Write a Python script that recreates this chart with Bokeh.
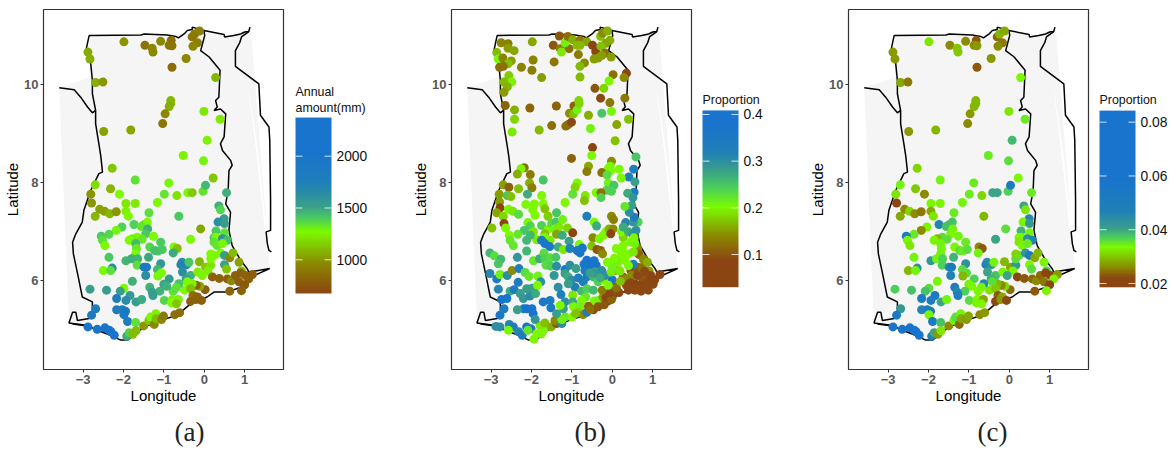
import numpy as np
from bokeh.core.properties import value
from bokeh.embed import file_html
from bokeh.layouts import row
from bokeh.models import ColumnDataSource, FixedTicker, LinearColorMapper, Title
from bokeh.plotting import figure
from bokeh.resources import INLINE
from bokeh.transform import transform

# ---- map outlines (lon, lat) ----
ghana_lon = [-2.85,-1.57,-1.49,-0.92,-0.71,-0.64,-0.50,-0.42,-0.30,-0.30,-0.01,0.01,-0.09,0.12,0.39,0.36,0.28,0.32,0.24,0.40,0.53,0.49,0.40,0.45,0.65,0.69,0.61,0.59,0.53,0.65,0.61,0.69,0.90,1.06,1.10,1.62,
             1.23,0.90,0.57,0.24,0.07,-0.34,-0.67,-1.08,-1.49,-1.74,-1.90,-2.07,-2.32,-2.65,-2.89,-3.35,-3.26,-3.18,-3.14,-2.85,-2.77,-2.77,-3.02,-3.12,-3.24,-3.26,-3.18,-3.02,-2.98,-2.81,-2.69,-2.61,-2.52,-2.56,-2.61,-2.65,-2.69,-2.69,-2.77,-2.77,-2.81,-2.93,-2.85]
ghana_lat = [11.0,11.01,11.03,11.01,10.98,10.95,11.03,11.10,11.12,11.17,11.10,11.0,10.69,10.56,10.29,9.74,9.67,9.54,9.47,9.50,9.40,8.93,8.79,8.65,8.45,8.35,8.24,7.84,7.56,7.39,7.02,6.71,6.41,6.24,6.17,6.24,
             6.10,5.86,5.76,5.76,5.66,5.52,5.29,5.18,5.05,4.88,4.78,4.78,4.88,4.98,5.08,5.13,5.35,5.35,5.18,5.22,5.32,5.56,5.66,6.07,6.54,6.78,6.95,7.19,7.43,7.84,8.04,8.18,8.21,8.52,8.79,8.99,9.20,9.47,9.81,10.08,10.42,10.69,11.0]
togo_lon = [-0.01,0.49,0.50,0.73,0.90,1.0,1.10,1.13]
togo_lat = [11.10,11.02,10.97,11.0,11.03,11.07,11.08,11.17]
benin_lon = [1.10,0.92,0.88,0.77,0.77,1.35,1.39,1.60,1.62,1.64,1.64,1.53,1.56,1.60,1.66]
benin_lat = [11.08,10.97,10.86,10.69,10.37,10.01,9.37,9.13,8.86,7.63,7.02,6.99,6.75,6.61,6.58]
burkina_lon = [-3.59,-3.22,-3.06,-2.89,-2.77,-2.69]
burkina_lat = [9.93,9.89,9.74,9.54,9.42,9.47]
lagoon_lon = [-3.26,-2.89]
lagoon_lat = [5.11,5.07]
land_lon = [-3.59,-2.83,-2.85,-1.57,-0.92,-0.50,-0.30,0.57,1.15,1.62,1.23,0.90,0.57,0.24,0.07,-0.34,-0.67,-1.08,-1.49,-1.74,-1.90,-2.07,-2.32,-2.65,-2.89,-3.35]
land_lat = [9.93,10.14,11.0,11.01,11.01,11.03,11.12,11.0,11.14,6.24,6.10,5.86,5.76,5.76,5.66,5.52,5.29,5.18,5.05,4.88,4.78,4.78,4.88,4.98,5.08,5.13]
sliver_lon = [1.06,1.34,1.54,1.50,1.29]
sliver_lat = [10.12,8.59,7.02,7.02,8.59]

# ---- stations of panels (a) and (c) ----
lon_a = [-1.99,-1.47,-1.29,-1.27,-1.08,-0.82,-0.87,-0.80,-0.30,-0.24,-0.12,-0.17,-0.28,-0.45,-0.80,-2.88,-2.83,-2.69,-2.51,0.28,-0.83,-0.83,-0.87,-0.97,-1.03,-1.82,-2.49,-0.01,0.39,0.07,-0.52,-0.02,0.22,-2.28,-1.71,-0.88,-2.70,-2.32,-2.81,-2.10,-0.99,-0.68,-0.41,-0.30,-0.03,0.03,0.55,
         -2.79,-1.94,-1.71,-1.16,0.36,0.40,-2.59,-2.47,-2.34,-2.18,-1.94,-1.88,-2.70,-1.37,-0.63,0.49,0.34,0.50,-1.48,-1.41,-1.74,-1.56,-1.40,-2.04,-2.18,-2.36,-2.55,-2.52,-2.46,-0.09,0.29,0.50,-1.45,-1.66,-1.78,-1.86,-1.26,-1.54,-1.70,-1.08,-0.34,0.24,0.29,0.24,0.45,0.57,0.32,0.45,
         -1.35,-1.68,-1.70,-1.23,-1.15,-1.04,-0.75,-0.67,-0.77,-2.36,-1.94,-1.80,-1.65,-1.38,-1.08,-1.66,-1.49,-1.43,-2.28,-2.50,-2.32,-1.16,-1.06,-1.15,-1.45,-0.55,-0.58,-0.44,-0.38,-0.12,-0.54,-0.34,-0.45,-0.87,-0.16,0.03,0.16,0.09,-0.05,0.16,0.24,0.16,0.40,0.50,0.63,0.71,0.86,0.50,0.55,0.92,
         0.20,0.37,0.57,0.67,0.77,0.90,1.02,1.19,1.10,0.86,1.0,0.63,0.92,0.02,-0.11,-0.20,-0.30,-0.42,-0.49,-0.34,-0.63,-0.69,-0.77,-1.0,-0.93,-1.10,-1.35,-1.29,-1.27,-1.78,-1.99,-2.08,-1.84,-2.83,-2.42,-2.17,-1.94,-1.69,-1.55,-0.99,-0.79,-0.81,-0.64,-0.69,-0.28,-0.17,-0.34,-0.21,-0.07,
         -2.69,-2.79,-2.17,-2.03,-1.95,-1.99,-1.90,-1.70,-2.88,-2.65,-2.46,-2.35,-2.31,-2.23,-1.92,-1.86,-1.77,-1.69,-1.50,-1.37,-1.33,-1.20,-1.24,-1.19,-1.06,-1.01,-0.73,-0.61]
lat_a = [10.87,10.80,10.74,10.66,10.88,10.90,10.80,10.79,10.97,11.03,11.09,10.85,10.78,10.53,10.35,10.66,10.52,10.04,10.05,10.14,9.67,9.61,9.55,9.40,9.20,9.07,9.04,9.45,9.29,8.86,8.55,8.44,8.09,8.29,8.05,7.99,7.95,7.87,7.76,7.76,7.76,7.73,7.79,7.79,7.82,7.94,7.79,
         7.58,7.57,7.57,7.59,7.52,7.44,7.45,7.41,7.36,7.40,7.41,7.31,7.31,7.38,7.31,7.26,7.19,7.16,7.14,7.19,7.14,7.10,7.05,7.09,7.02,6.94,6.90,6.82,6.71,7.05,7.01,6.97,6.95,6.88,6.85,6.82,6.90,6.84,6.75,6.78,6.84,6.87,6.88,6.78,6.85,6.82,6.71,6.75,
         6.68,6.65,6.54,6.61,6.60,6.63,6.68,6.65,6.56,6.47,6.40,6.44,6.44,6.47,6.34,6.31,6.27,6.27,6.25,6.20,6.20,6.22,6.15,6.09,6.10,6.37,6.32,6.32,6.37,6.38,6.17,6.10,6.03,6.03,6.17,6.27,6.31,6.19,6.10,6.44,6.51,6.54,6.56,6.51,6.46,6.56,6.37,6.32,6.23,6.19,
         6.07,6.04,6.03,5.99,6.10,6.15,6.10,6.12,6.03,5.97,5.91,5.78,5.79,5.81,5.88,5.90,5.93,5.97,5.80,5.83,5.93,5.86,5.78,5.92,5.88,5.78,5.86,5.76,5.69,5.98,5.84,5.78,5.69,5.82,5.80,5.63,5.59,5.56,5.61,5.59,5.61,5.54,5.61,5.52,5.69,5.66,5.57,5.61,5.59,
         5.42,5.29,5.40,5.40,5.37,5.30,5.16,5.14,5.05,5.0,5.03,4.98,4.95,4.88,4.86,4.93,4.90,4.97,5.07,5.18,5.25,5.32,5.10,5.22,5.20,5.27,5.30,5.34]
rain_a = [1000,870,950,950,960,850,880,880,880,900,920,920,950,950,850,1050,1060,1060,1000,1080,1080,1080,1060,950,880,1040,1030,1220,1220,1250,1250,1290,1130,1120,1340,1280,1180,1080,1000,1270,1330,1200,1280,1130,1330,1440,1470,
          1000,1220,1220,1260,1470,1370,1030,1030,1080,1000,1250,1270,1080,1350,1400,1530,1620,1520,1100,1270,1380,1330,1470,1380,1290,1370,1400,1350,1260,1040,1400,1340,1400,1270,1300,1270,1270,1320,1440,1400,1270,1400,1260,1340,1600,1430,1330,1280,
          1370,1320,1270,1420,1430,1400,1270,1100,1480,1400,1450,1470,1450,1490,1560,1350,1850,1850,1650,1270,1350,1450,1270,1280,1620,1620,1700,1700,1400,1080,1620,1470,1530,1550,1240,1140,1200,1240,1250,1260,1280,1270,1270,1530,950,1100,1020,1500,1120,1120,
          800,800,800,950,800,780,800,780,790,780,770,820,800,780,1040,800,1240,1270,1270,1100,1420,1340,1350,1500,1470,1460,1460,1530,1530,1470,1270,1520,1550,1530,1530,1750,1650,1530,1480,1370,1250,1270,1240,1120,850,800,780,790,780,
          1800,1850,1750,1800,1850,1900,1800,1340,2000,2000,2000,2100,2100,2100,1480,1380,1100,1100,1000,1120,1260,1240,950,1100,950,900,850,850]
prop_c = [.032,.026,.030,.030,.026,.023,.026,.027,.024,.029,.028,.025,.026,.027,.023,.027,.027,.028,.025,.0335,.029,.029,.029,.027,.026,.029,.027,.032,.035,.0385,.035,.036,.033,.031,.034,.035,.034,.030,.032,.026,.035,.031,.040,.040,.037,.050,.035,
          .022,.033,.033,.034,.040,.032,.026,.031,.026,.025,.028,.032,.028,.035,.029,.046,.033,.041,.038,.038,.046,.038,.034,.033,.026,.035,.052,.033,.032,.036,.039,.034,.033,.036,.029,.033,.034,.036,.034,.035,.040,.033,.033,.032,.043,.046,.033,.035,
          .033,.034,.034,.036,.035,.036,.026,.023,.034,.034,.042,.034,.037,.039,.043,.037,.045,.052,.043,.029,.034,.036,.036,.029,.046,.043,.046,.043,.034,.029,.040,.038,.039,.037,.033,.028,.042,.033,.040,.036,.036,.031,.042,.052,.028,.029,.033,.033,.036,.037,
          .022,.023,.024,.026,.024,.022,.021,.027,.033,.025,.022,.023,.033,.024,.031,.026,.029,.036,.032,.030,.045,.034,.033,.034,.033,.037,.050,.045,.047,.033,.036,.038,.052,.037,.038,.052,.050,.040,.034,.036,.033,.033,.028,.033,.023,.028,.022,.027,.022,
          .042,.055,.046,.050,.052,.033,.052,.038,.058,.058,.058,.060,.060,.060,.047,.040,.027,.032,.026,.034,.036,.034,.024,.028,.027,.028,.026,.027]

# ---- stations of panel (b) ----
lon_b = [-2.75,-2.58,-2.58,-2.43,-2.86,-2.82,-2.71,-2.50,-2.58,-2.79,-2.70,-1.98,-1.96,-2.25,-1.99,-1.75,-2.56,-2.49,-2.68,-2.60,-2.68,-2.65,-2.42,-2.42,-2.48,-2.04,-1.81,-1.50,-1.385,-1.15,-1.09,-1.01,-1.06,-0.95,-0.96,-0.87,-0.83,-0.82,-0.59,-0.54,-0.26,-0.02,0.40,0.11,0.07,-0.49,-0.51,-1.01,
         -1.31,-1.46,-1.29,-1.07,-1.17,-1.26,-1.44,-1.10,-0.98,-0.80,-0.63,-0.87,-0.80,-0.84,-0.69,-0.80,-0.80,-0.49,-0.41,-0.29,-0.24,-0.12,-0.06,-0.16,-0.28,-0.18,-0.26,-0.45,-0.35,-0.03,0.02,0.35,0.29,-0.08,-0.21,-0.43,-0.29,-0.06,0.31,
         0.585,0.53,0.41,0.56,0.54,0.38,0.51,-0.02,-0.05,-0.10,-0.04,0.17,-0.26,-0.13,0.22,-0.10,0.04,-0.14,-0.02,-0.40,-0.28,-0.28,-0.67,-0.59,-0.63,-0.87,-0.92,-0.98,-1.71,-1.75,-2.03,-2.18,-2.26,-2.35,-2.05,-1.99,-2.10,-2.32,-2.70,-2.56,-2.80,-2.60,-2.51,
         -2.79,-2.78,-2.86,-2.57,-2.46,-2.32,-2.14,-1.93,-1.71,-1.91,-1.97,-1.67,-1.59,-1.38,-1.17,-0.69,-0.63,-0.02,0.03,-0.45,-0.39,-2.70,-2.68,-2.64,-2.98,-2.09,-2.03,-2.18,-2.34,-1.95,-1.75,-1.58,-1.50,-1.40,-1.43,-1.32,-1.23,-1.11,-1.38,-1.24,-1.67,-1.54,-1.68,-1.87,-1.75,-1.67,-1.55,-2.55,-2.53,-2.45,-2.12,-2.03,
         -0.98,-1.07,-0.82,-1.34,-1.21,-1.05,-0.87,-0.80,-0.74,-0.48,-0.51,-0.38,-0.29,-0.24,-0.32,-0.22,-0.16,-0.08,0.02,-0.04,-0.12,-0.02,0.13,-3.03,-2.92,-2.76,-2.82,-2.35,-2.12,-1.95,-1.80,-1.69,-1.67,-1.54,-1.40,-1.64,-1.52,-1.38,-1.17,-1.05,-0.90,-0.63,-0.51,-0.40,-0.63,-0.51,-0.68,-0.43,-0.26,
         -3.03,-2.86,-2.78,-2.60,-2.48,-2.31,-2.16,-2.06,-2.33,-2.82,-2.53,-2.43,-2.28,-2.2,-2.07,-1.98,-1.84,-1.77,-1.85,-2.04,-1.90,-1.44,-1.34,-1.27,-1.17,-1.17,-1.09,-1.01,-0.92,-1.09,-0.98,-0.98,-0.84,-0.72,-0.63,-0.76,-0.63,-0.47,-0.66,-0.76,-0.47,-0.35,-0.21,0,-0.18,-0.45,-0.35,
         -0.96,-0.80,-0.84,-0.72,-0.63,-0.59,-0.47,-0.35,-0.23,-0.16,-0.08,0,-0.10,-0.02,0.05,0.165,0.40,0.56,0.71,0.89,0.56,0.73,0.85,1.01,1.05,1.18,0.87,0.91,0.73,0.56,0.46,0.64,0.74,0.52,0.27,0.35,0.48,0.07,0.19,-0.03,
         0.63,0.66,0.77,0.87,0.40,0.52,0.19,0.23,0.11,0.31,0.27,0.27,0.23,0.40,0.50,0.585,0.33,0.27,0.45,0.56,0.54,0.64,0.52,0.54,0.42,0.48,0.31,
         -2.88,-2.78,-2.55,-2.45,-2.57,-2.32,-2.23,-2.12,-2.01,-2.09,-1.94,-1.87,-1.75,-1.68,-1.79,-1.67,-1.51,-1.38,-1.42,-1.25,-1.17,-1.25,-1.0,-0.91,-2.12,-1.99,-2.19,-1.96,-1.91,-2.35,-2.78,-2.68,-2.74,-2.61,-1.71,-1.54,-1.52,-1.38,-1.21,-1.29,-2.12,
         0.35,0.45,0.62,0.80,0.95,0.48,0.65,0.80,-0.25,-0.05,0.1,-0.55,-0.2,-0.58,-0.45,-0.7,-0.45,-0.55,-0.3,0.0,-0.1,0.2,0.05,0.3,0.4,0.1]
lat_b = [10.85,10.83,10.74,10.69,10.65,10.52,10.54,10.48,10.42,10.35,10.37,10.87,10.50,10.35,10.29,10.14,10.18,10.05,10.05,9.95,9.84,9.57,9.48,9.29,9.03,9.52,9.07,9.16,9.56,9.15,9.18,9.23,9.41,9.56,9.40,9.48,9.67,9.61,9.37,9.10,9.41,9.45,9.29,9.18,8.85,8.71,8.55,8.49,
         10.99,10.80,10.73,10.73,10.85,10.66,10.46,10.98,10.91,10.90,10.87,10.80,10.80,10.61,10.44,10.37,10.15,10.80,10.67,10.98,11.05,11.09,10.90,10.84,10.78,10.64,10.59,10.52,10.54,10.56,10.20,10.23,10.14,10.07,9.92,9.92,9.72,9.63,9.72,
         8.52,8.27,8.11,8.01,7.80,7.78,7.69,8.43,8.33,8.28,8.24,8.27,8.20,8.15,8.09,7.99,7.94,7.84,7.82,7.79,7.79,7.69,7.73,8.33,8.22,7.99,7.90,7.76,8.05,7.73,8.16,8.30,8.28,8.17,7.99,7.89,7.76,7.87,7.95,7.90,7.76,7.73,7.71,
         7.60,7.48,7.38,7.45,7.41,7.35,7.55,7.56,7.56,7.33,7.44,7.46,7.31,7.38,7.59,7.63,7.31,7.31,7.24,7.19,7.11,7.31,7.16,7.07,7.07,7.18,7.11,7.02,6.94,6.99,7.12,7.05,7.16,7.19,7.05,7.09,7.24,7.07,6.94,6.92,6.95,6.82,6.88,6.83,6.82,6.75,6.69,6.92,6.82,6.71,6.82,6.92,
         6.97,6.80,6.73,6.68,6.63,6.65,6.61,6.56,6.66,6.87,6.70,6.63,6.61,6.54,6.85,6.92,6.99,7.05,7.05,6.95,6.37,6.35,6.34,6.56,6.50,6.43,6.34,6.47,6.60,6.40,6.44,6.56,6.44,6.46,6.47,6.31,6.29,6.29,6.22,6.31,6.24,6.41,6.37,6.31,6.31,6.27,6.20,6.17,6.20,
         6.14,6.03,6.12,6.10,6.20,6.24,6.16,6.08,5.96,5.82,5.78,5.81,5.73,5.63,5.82,5.84,6.09,5.97,5.90,5.68,5.73,6.10,5.86,5.71,5.56,6.14,6.07,6.0,5.86,5.93,5.70,5.56,6.05,5.97,6.07,5.78,5.83,5.80,5.66,5.59,6.07,5.97,6.0,6.01,6.10,5.58,5.59,
         5.46,5.47,5.35,5.30,5.35,5.47,5.40,5.46,5.66,5.65,5.73,5.66,5.58,5.61,5.86,5.75,5.80,5.80,5.78,5.80,5.93,5.93,5.93,5.92,6.01,6.12,6.03,6.19,6.07,6.24,6.20,6.26,6.26,6.33,6.07,6.03,6.10,6.20,6.19,6.17,
         6.65,6.53,6.43,6.37,6.54,6.58,6.61,6.51,6.41,6.41,6.71,6.88,6.99,6.99,6.95,7.02,7.18,7.09,6.78,6.75,6.87,7.19,7.19,7.29,7.39,7.53,7.51,
         5.06,5.05,5.10,5.05,4.98,4.95,4.88,5.05,5.01,4.98,4.80,4.91,4.91,5.01,5.08,5.13,5.05,5.12,5.18,5.12,5.25,5.20,5.25,5.32,5.42,5.42,5.42,5.32,5.20,5.40,5.29,5.42,5.61,5.63,5.56,5.59,5.44,5.32,5.42,5.49,5.83,
         5.90,5.95,6.10,6.18,6.10,5.85,5.85,5.85,5.80,5.75,5.85,5.40,5.50,6.35,6.40,6.33,6.15,6.15,6.05,6.25,5.90,5.98,6.45,6.55,6.30,6.65]
prop_b = [.135,.13,.15,.155,.165,.2,.135,.15,.17,.12,.12,.155,.135,.135,.13,.15,.175,.195,.165,.16,.15,.11,.16,.18,.19,.11,.165,.12,.11,.12,.12,.09,.14,.11,.17,.21,.18,.18,.16,.21,.25,.205,.17,.155,.17,.08,.2,.11,
          .1,.1,.13,.12,.21,.19,.125,.12,.16,.13,.155,.165,.165,.13,.14,.165,.165,.08,.08,.17,.14,.16,.16,.155,.17,.12,.15,.15,.15,.15,.12,.08,.14,.2,.18,.1,.09,.125,.125,
          .25,.32,.33,.28,.34,.27,.29,.14,.2,.2,.2,.2,.12,.23,.2,.21,.25,.24,.24,.2,.12,.24,.19,.155,.13,.2,.18,.225,.25,.2,.13,.12,.2,.16,.16,.13,.27,.17,.15,.11,.15,.25,.17,
          .15,.08,.155,.2,.19,.23,.2,.2,.2,.2,.2,.17,.175,.25,.2,.17,.32,.14,.13,.2,.27,.18,.08,.2,.17,.2,.24,.25,.22,.19,.24,.2,.23,.25,.21,.19,.21,.18,.155,.27,.17,.19,.2,.19,.34,.36,.36,.2,.22,.22,.26,.26,
          .07,.28,.2,.27,.19,.32,.36,.36,.36,.14,.17,.1,.11,.14,.2,.2,.2,.16,.14,.08,.2,.2,.2,.26,.23,.26,.25,.29,.26,.22,.27,.23,.24,.23,.25,.23,.24,.3,.36,.3,.28,.38,.38,.37,.37,.38,.33,.27,.3,
          .31,.34,.21,.3,.14,.33,.23,.22,.34,.31,.27,.34,.28,.29,.3,.28,.21,.3,.2,.3,.27,.29,.3,.32,.3,.28,.27,.3,.32,.28,.19,.27,.33,.33,.33,.26,.24,.26,.22,.2,.26,.24,.2,.37,.3,.2,.21,
          .2,.21,.18,.14,.34,.11,.09,.1,.15,.09,.08,.1,.09,.11,.1,.09,.08,.09,.09,.09,.08,.08,.09,.09,.08,.07,.09,.15,.1,.09,.1,.1,.12,.32,.11,.14,.14,.16,.19,.19,
          .14,.11,.14,.16,.2,.19,.2,.2,.21,.2,.2,.18,.2,.27,.29,.3,.31,.27,.2,.21,.2,.24,.29,.34,.3,.28,.22,
          .3,.3,.31,.34,.2,.31,.34,.38,.34,.22,.2,.2,.2,.2,.19,.17,.16,.1,.14,.3,.22,.21,.2,.17,.38,.39,.38,.38,.29,.28,.36,.34,.39,.39,.36,.34,.35,.28,.28,.2,.28,
          .09,.08,.09,.09,.08,.09,.09,.09,.13,.09,.12,.12,.1,.38,.38,.36,.29,.28,.27,.21,.2,.17,.2,.2,.2,.2]

# ---- colour bars ----
lon_ticks = [-3, -2, -1, 0, 1]
lat_ticks = [6, 8, 10]
rain_ticks = [1000, 1500, 2000]
prop_b_ticks = [0.1, 0.2, 0.3, 0.4]
prop_c_ticks = [0.02, 0.04, 0.06, 0.08]
rain_limits = (675, 2373)
prop_b_limits = (0.03, 0.4086)
prop_c_limits = (0.0186, 0.0843)

BROWN, OLIVE, LIME, GREEN, SEA, STEEL, BLUE = "#8B4513", "#8B8B00", "#7CFC00", "#4CCF5C", "#3AA08A", "#2080B8", "#1874CD"
stops_a = ([0, .17, .35, .42, .49, .62, .80, 1], [BROWN, OLIVE, LIME, GREEN, SEA, STEEL, BLUE, BLUE])
stops_b = ([0, .15, .29, .45, .56, .66, .76, .92, 1], [BROWN, BROWN, OLIVE, LIME, GREEN, SEA, STEEL, BLUE, BLUE])
stops_c = ([0, .05, .11, .226, .28, .33, .43, .62, 1], [BROWN, BROWN, OLIVE, LIME, GREEN, SEA, STEEL, BLUE, BLUE])


def make_palette(stops):
    fr, cols = stops
    rgb = np.array([[int(c[i:i + 2], 16) for i in (1, 3, 5)] for c in cols], float)
    t = np.linspace(0, 1, 256)
    ch = [np.interp(t, fr, rgb[:, k]) for k in range(3)]
    return ["#%02x%02x%02x" % (int(r), int(g), int(b)) for r, g, b in zip(*ch)]


SANS = "Liberation Sans"
X_RANGE = (-3.98, 1.96)
Y_RANGE = (4.18, 11.53)
HEIGHT = 456
TOP = 9
BOTTOM = HEIGHT - TOP - 360


def map_panel(lon, lat, val, mapper, caption, cap_offset, left, width):
    p = figure(width=width, height=HEIGHT, x_range=X_RANGE, y_range=Y_RANGE, output_backend="svg",
               toolbar_location=None, min_border_left=left, min_border_right=width - left - 240,
               min_border_top=TOP, min_border_bottom=BOTTOM, background_fill_color="white")
    p.grid.visible = False
    p.outline_line_color = "#333333"
    p.outline_line_width = 1.2
    p.patch(land_lon, land_lat, fill_color="#F5F5F5", line_color=None)
    p.patch(sliver_lon, sliver_lat, fill_color="white", line_color=None)
    for xs, ys in ((ghana_lon, ghana_lat), (togo_lon, togo_lat), (benin_lon, benin_lat),
                   (burkina_lon, burkina_lat), (lagoon_lon, lagoon_lat)):
        p.line(xs, ys, line_color="black", line_width=1.5)
    src = ColumnDataSource(dict(x=lon, y=lat, v=val))
    p.scatter("x", "y", source=src, size=9, line_color=None, fill_color=transform("v", mapper))
    for ax, ticks, label in ((p.xaxis, lon_ticks, "Longitude"), (p.yaxis, lat_ticks, "Latitude")):
        ax.ticker = FixedTicker(ticks=ticks)
        ax.minor_tick_line_color = None
        ax.axis_line_color = None
        ax.major_tick_line_color = "#333333"
        ax.major_tick_out = 3
        ax.major_tick_in = 0
        ax.major_label_text_font = SANS
        ax.major_label_text_font_style = "bold"
        ax.major_label_text_font_size = "13px"
        ax.major_label_text_color = "#595959"
        ax.major_label_standoff = 2
        ax.axis_label = label
        ax.axis_label_text_font = SANS
        ax.axis_label_text_font_style = "normal"
        ax.axis_label_text_font_size = "15px"
        ax.axis_label_text_color = "black"
        ax.axis_label_standoff = 0
    p.xaxis.major_label_overrides = {t: str(t).replace("-", "\u2212") for t in lon_ticks}
    cap = Title(text=caption, align="left", offset=cap_offset, standoff=17, text_font="Liberation Serif",
                text_font_size="27px", text_font_style="normal", text_color="#222222")
    p.add_layout(cap, "below")
    return p


def bar_panel(limits, y_limits, ticks, mapper, titles, bar_x, width):
    low, high = limits
    p = figure(width=width, height=HEIGHT, x_range=(0, width), y_range=y_limits, output_backend="svg",
               toolbar_location=None, x_axis_location=None, y_axis_location=None,
               min_border_left=0, min_border_right=0, min_border_top=TOP, min_border_bottom=BOTTOM)
    p.grid.visible = False
    p.outline_line_color = None
    arr = np.linspace(low, high, 256).reshape(-1, 1)
    p.image(image=[arr], x=bar_x, y=low, dw=36, dh=high - low, color_mapper=mapper)
    n = len(ticks)
    p.segment(x0=[bar_x] * n, x1=[bar_x + 7] * n, y0=ticks, y1=ticks, line_color="white", line_width=1, line_alpha=0.8)
    p.segment(x0=[bar_x + 29] * n, x1=[bar_x + 36] * n, y0=ticks, y1=ticks, line_color="white", line_width=1, line_alpha=0.8)
    p.text(x=[bar_x + 41] * n, y=ticks, text=[str(t) for t in ticks], text_font=value(SANS), text_font_size="13.8px",
           text_align="left", text_baseline="middle", text_color="#111111")
    p.text(x=[bar_x] * len(titles), y=[t[1] for t in titles], text=[t[0] for t in titles], text_font=value(SANS),
           text_font_size="12.4px", text_align="left", text_baseline="middle", text_color="#111111")
    return p


mapper_a = LinearColorMapper(palette=make_palette(stops_a), low=rain_limits[0], high=rain_limits[1])
mapper_b = LinearColorMapper(palette=make_palette(stops_b), low=prop_b_limits[0], high=prop_b_limits[1])
mapper_c = LinearColorMapper(palette=make_palette(stops_c), low=prop_c_limits[0], high=prop_c_limits[1])

fa = map_panel(lon_a, lat_a, rain_a, mapper_a, "(a)", 131, 43, 287)
ca = bar_panel(rain_limits, (-58.9, 3416), rain_ticks, mapper_a, [("Annual", 2615), ("amount(mm)", 2470)], 8, 122)
fb = map_panel(lon_b, lat_b, prop_b, mapper_b, "(b)", 123, 42, 286)
cb = bar_panel(prop_b_limits, (-0.1463, 0.6248), prop_b_ticks, mapper_b, [("Proportion", 0.432)], 7, 111)
fc = map_panel(lon_a, lat_a, prop_c, mapper_c, "(c)", 129, 42, 286)
cc = bar_panel(prop_c_limits, (-0.01197, 0.1219), prop_c_ticks, mapper_c, [("Proportion", 0.0884)], 7, 80)

page = row(fa, ca, fb, cb, fc, cc, spacing=0)
open("out.html", "w").write(file_html(page, INLINE))
